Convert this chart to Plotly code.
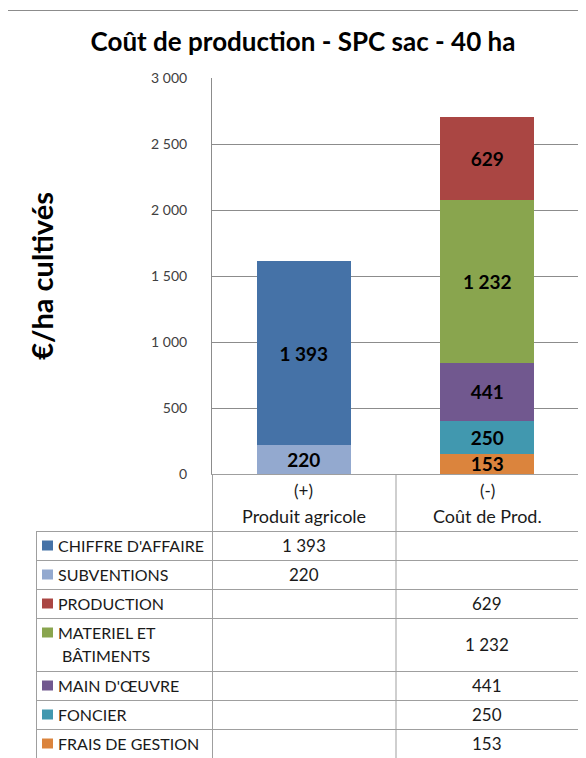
import plotly.graph_objects as go

# --- données ---------------------------------------------------------------
categories = ["Produit agricole", "Coût de Prod."]
category_signs = ["(+)", "(-)"]

series_names = [
    "CHIFFRE D'AFFAIRE", "SUBVENTIONS", "PRODUCTION", "MATERIEL ET BÂTIMENTS",
    "MAIN D'ŒUVRE", "FONCIER", "FRAIS DE GESTION",
]
table_labels = [
    ["CHIFFRE D'AFFAIRE"], ["SUBVENTIONS"], ["PRODUCTION"], ["MATERIEL ET", " BÂTIMENTS"],
    ["MAIN D'ŒUVRE"], ["FONCIER"], ["FRAIS DE GESTION"],
]
chiffre_affaire = [1393, None]
subventions = [220, None]
production = [None, 629]
materiel = [None, 1232]
main_oeuvre = [None, 441]
foncier = [None, 250]
frais_gestion = [None, 153]
series_values = [chiffre_affaire, subventions, production, materiel,
                 main_oeuvre, foncier, frais_gestion]

y_ticks = [0, 500, 1000, 1500, 2000, 2500, 3000]

# --- styles ----------------------------------------------------------------
COLORS = ["#4572A7", "#93A9CF", "#AA4643", "#89A54E", "#71588F", "#4198AF", "#DB843D"]
FONT = "Lato"
W, H = 586, 758          # taille de la capture
OFF = 8                  # marge du <body> de la page
PLOT_L, PLOT_R, PLOT_T, PLOT_B = 212, 579, 78, 474
GRID = "#8c8c8c"
TABLE_LINE = "#9f9f9f"
TEXT = "#1a1a1a"
ROW_EDGES = [531, 560, 589, 618, 671, 700, 729, 758]


def px_x(px):
    return (px - PLOT_L) / (PLOT_R - PLOT_L)


def px_y(py):
    return (PLOT_B - py) / (PLOT_B - PLOT_T)


def fmt(v):
    return f"{v:,}".replace(",", " ")


def hline(py, x0, x1):
    return dict(type="line", xref="paper", yref="paper", x0=px_x(x0), x1=px_x(x1),
                y0=px_y(py + 0.5), y1=px_y(py + 0.5), line=dict(color=TABLE_LINE, width=1))


def vline(px, y0, y1):
    return dict(type="line", xref="paper", yref="paper", x0=px_x(px + 0.5), x1=px_x(px + 0.5),
                y0=px_y(y0), y1=px_y(y1), line=dict(color=TABLE_LINE, width=1))


def cell(x, xref, py, text, size, xanchor="center"):
    return dict(x=x, xref=xref, y=px_y(py), yref="paper", text=text, showarrow=False,
                xanchor=xanchor, yanchor="middle", font=dict(family=FONT, size=size, color=TEXT))


fig = go.Figure()

# Barres empilées : du bas vers le haut (ordre inverse du tableau)
for name, vals, color in reversed(list(zip(series_names, series_values, COLORS))):
    fig.add_trace(go.Bar(
        x=categories, y=vals, name=name, marker=dict(color=color, line=dict(width=0)),
        texttemplate="%{y:,.0f}", textposition="inside", insidetextanchor="middle",
        textfont=dict(family=FONT, size=19, color="black", weight="bold"),
        cliponaxis=False,
    ))

shapes = []
annotations = []

# Cadre extérieur
shapes.append(dict(type="rect", xref="paper", yref="paper",
                   x0=px_x(7.5), x1=px_x(W + 20), y0=px_y(10.5), y1=px_y(H + 20),
                   line=dict(color="#8c8c8c", width=1), layer="below"))

# En-tête du tableau (catégories)
for cat, sign in zip(categories, category_signs):
    annotations.append(cell(cat, "x", 490, sign, 17))
    annotations.append(cell(cat, "x", 516, cat, 18))

# Quadrillage du tableau
shapes.append(vline(PLOT_L, PLOT_B, H + 5))
shapes.append(vline((PLOT_L + PLOT_R) / 2, PLOT_B, H + 5))
shapes.append(vline(PLOT_R, PLOT_B, H + 5))
shapes.append(vline(36, ROW_EDGES[0], H + 5))
for edge in ROW_EDGES[:-1]:
    shapes.append(hline(edge, 36, PLOT_R + 0.5))

# Lignes du tableau : légende + valeurs
for i, (lines, vals, color) in enumerate(zip(table_labels, series_values, COLORS)):
    top, bottom = ROW_EDGES[i], ROW_EDGES[i + 1]
    mid = (top + bottom) / 2
    first_line_y = top + 14.5
    shapes.append(dict(type="rect", xref="paper", yref="paper",
                       x0=px_x(42), x1=px_x(53), y0=px_y(first_line_y - 5), y1=px_y(first_line_y + 5),
                       fillcolor=color, line=dict(width=0)))
    for k, line in enumerate(lines):
        annotations.append(cell(px_x(56), "paper", first_line_y + 23 * k, line, 16, xanchor="left"))
    for cat, v in zip(categories, vals):
        if v is not None:
            annotations.append(cell(cat, "x", mid, fmt(v), 17))

fig.update_layout(
    width=W - OFF, height=H - OFF,
    margin=dict(l=PLOT_L - OFF, r=W - PLOT_R, t=PLOT_T - OFF, b=H - PLOT_B, pad=0),
    paper_bgcolor="white", plot_bgcolor="white",
    barmode="stack", bargap=0.49, showlegend=False,
    separators=", ",
    uniformtext=dict(minsize=19, mode="show"),
    title=dict(text="<b>Coût de production - SPC sac - 40 ha</b>", x=(303 - OFF) / (W - OFF),
               xref="container", xanchor="center", y=1 - (42 - OFF) / (H - OFF), yref="container",
               yanchor="middle", font=dict(family=FONT, size=26, color="black")),
    font=dict(family=FONT),
    shapes=shapes,
    annotations=annotations,
)
fig.update_xaxes(showticklabels=False, showline=True, linecolor=TABLE_LINE, linewidth=1,
                 showgrid=False, range=[-0.5, 1.5], fixedrange=True)
fig.update_yaxes(range=[0, 3000], tickvals=y_ticks, tickformat=",.0f",
                 showgrid=True, gridcolor=GRID, gridwidth=1, zeroline=False,
                 showline=True, linecolor=GRID, linewidth=1,
                 ticks="outside", ticklen=21, tickcolor="rgba(0,0,0,0)",
                 tickfont=dict(family=FONT, size=14, color="#404040"),
                 title=dict(text="<b>€/ha cultivés</b>", standoff=88,
                            font=dict(family=FONT, size=29, color="black")))

fig.write_html("out.html")
